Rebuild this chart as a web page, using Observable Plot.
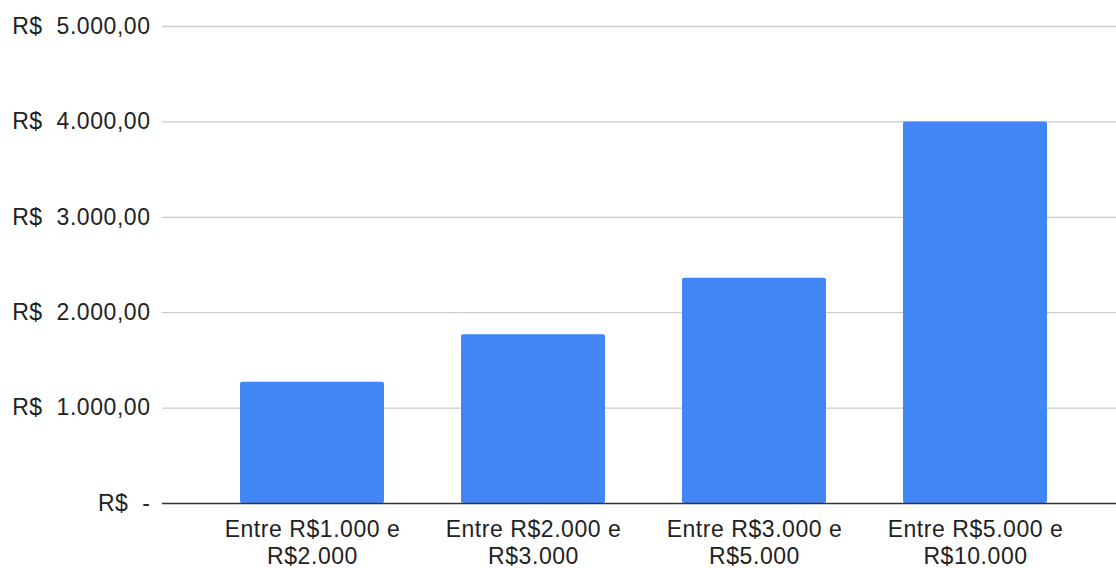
<!DOCTYPE html>
<html>
<head>
<meta charset="utf-8">
<script src="https://cdn.jsdelivr.net/npm/d3@7"></script>
<script src="https://cdn.jsdelivr.net/npm/@observablehq/plot@0.6"></script>
<style>
  html, body { margin: 0; padding: 0; background: #fff; }
  #chart svg { display: block; }
</style>
</head>
<body>
<div id="chart"></div>
<script>
// Faixas de renda e valor médio (R$)
const categories = [
  "Entre R$1.000 e R$2.000",
  "Entre R$2.000 e R$3.000",
  "Entre R$3.000 e R$5.000",
  "Entre R$5.000 e R$10.000"
];
const values = [1270, 1770, 2360, 4000];

// Marcas do eixo Y e seus rótulos (formato contábil)
const yTicks = [0, 1000, 2000, 3000, 4000, 5000];
const yTickLabels = [
  "R$\u00a0\u00a0-",
  "R$\u00a0\u00a01.000,00",
  "R$\u00a0\u00a02.000,00",
  "R$\u00a0\u00a03.000,00",
  "R$\u00a0\u00a04.000,00",
  "R$\u00a0\u00a05.000,00"
];

const data = categories.map((c, i) => ({categoria: c, valor: values[i]}));
const yLabel = new Map(yTicks.map((t, i) => [t, yTickLabels[i]]));

const W = 1116, H = 568;
const marginLeft = 162, marginTop = 26, marginBottom = 65;

const chart = Plot.plot({
  width: W,
  height: H,
  marginLeft,
  marginRight: 0,
  marginTop,
  marginBottom,
  style: {
    fontFamily: "'Liberation Sans', Arial, sans-serif",
    fontSize: "23px",
    letterSpacing: "0.55px",
    color: "#222",
    background: "#fff"
  },
  x: {domain: categories, range: [marginLeft, 1125], paddingInner: 0.35, paddingOuter: 0.35, label: null},
  y: {domain: [0, 5000], label: null},
  marks: [
    Plot.ruleY(yTicks.filter(t => t > 0), {stroke: "#ccc", strokeWidth: 1.3, strokeOpacity: 1}),
    Plot.barY(data, {x: "categoria", y: "valor", fill: "#4285f4", rx: 2}),
    Plot.ruleY([0], {stroke: "#333", strokeWidth: 1.5}),
    Plot.axisY({
      ticks: yTicks,
      tickFormat: d => yLabel.get(d),
      tickSize: 0,
      tickPadding: 12,
      fontSize: 23,
      fill: "#222",
      label: null
    }),
    Plot.axisX({
      tickSize: 0,
      tickPadding: 14,
      tickFormat: d => d.replace(" e ", " e\n"),
      lineHeight: 1.17,
      fontSize: 23,
      fill: "#222",
      label: null
    })
  ]
});

document.getElementById("chart").appendChild(chart);
</script>
</body>
</html>
